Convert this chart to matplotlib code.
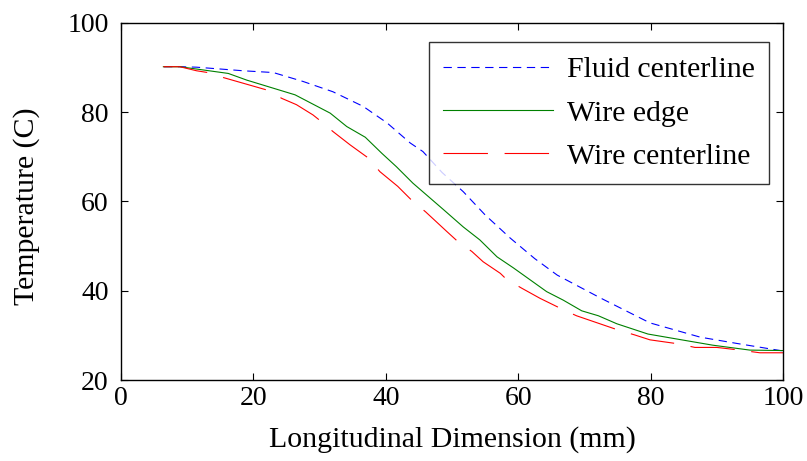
import matplotlib
matplotlib.use("Agg")
import matplotlib.pyplot as plt

plt.rcParams['font.family'] = ['Liberation Serif', 'DejaVu Serif']
plt.rcParams['lines.scale_dashes'] = False

fluid_x = [6.5, 9, 11.4, 18.4, 23, 27.5, 32, 36.6, 40.2, 43.7, 45.6, 48.5, 51.7, 55, 58.8, 62.5, 65.9, 72.4, 79.9, 87.5, 93, 100]
fluid_y = [90.2, 90.2, 90.1, 89.3, 88.9, 86.9, 84.6, 81.3, 77.6, 73.1, 71.2, 66.5, 62.2, 57.0, 51.8, 47.2, 43.5, 38.4, 32.8, 29.6, 28.2, 26.5]

edge_x = [6.4, 8.9, 16.2, 19, 26.3, 31.6, 34.1, 36.9, 39.4, 41.6, 44.1, 48.7, 51.7, 54.2, 56.8, 59.3, 64.3, 66.8, 69.6, 72.1, 74.9, 79.6, 83.9, 89.4, 95, 100]
edge_y = [90.2, 90.2, 88.7, 87.2, 83.9, 79.8, 76.8, 74.4, 70.8, 67.8, 64.1, 58.2, 54.3, 51.4, 47.6, 45.1, 39.8, 37.9, 35.5, 34.4, 32.6, 30.3, 29.2, 27.8, 26.7, 26.6]

wire_x = [6.4, 8.9, 11.4, 13.1, 15.4, 22, 24.3, 26.5, 29, 30.1, 32, 34.6, 37.4, 39.1, 41.8, 44.1, 46, 49.2, 50.9, 53, 54.7, 57.3, 58.2, 60.5, 63.3, 66.6, 68.8, 75.1, 77.6, 79.9, 84.2, 86.7, 90, 93.5, 96.5, 100]
wire_y = [90.2, 90.2, 89.3, 88.9, 87.8, 85.0, 83.1, 81.7, 79.4, 78.1, 75.7, 72.7, 69.7, 66.7, 63.4, 60.0, 57.7, 53.3, 51.0, 48.8, 46.5, 43.9, 42.6, 40.6, 38.3, 35.9, 34.4, 31.2, 30.1, 29.0, 28.1, 27.3, 27.3, 26.7, 26.1, 26.1]

labels = ['Fluid centerline', 'Wire edge', 'Wire centerline']
xticks = [0, 20, 40, 60, 80, 100]
yticks = [20, 40, 60, 80, 100]

fig = plt.figure(figsize=(8.07, 4.61), dpi=100)
ax = fig.add_axes([121/807, 1 - 380/461, (783-121)/807, (380-23)/461])

ax.plot(fluid_x, fluid_y, color='#0000ff', lw=0.8, dashes=(6, 4), label=labels[0])
ax.plot(edge_x, edge_y, color='#008000', lw=0.8, label=labels[1])
ax.plot(wire_x, wire_y, color='#ff0000', lw=0.8, dashes=(32, 12), label=labels[2])

ax.set_xlim(0, 100)
ax.set_ylim(20, 100)
ax.set_xticks(xticks)
ax.set_yticks(yticks)
ax.tick_params(direction='in', length=5, width=0.8, top=True, right=True, labelsize=20)
ax.tick_params(axis='x', pad=4)
ax.tick_params(axis='y', pad=9)
for s in ax.spines.values():
    s.set_linewidth(1.0)
ax.set_xlabel('Longitudinal Dimension (mm)', fontsize=21.5, labelpad=11)
ax.set_ylabel('Temperature (C)', fontsize=21.5)
ax.yaxis.set_label_coords(-0.122, 0.487)

leg = ax.legend(loc='upper right', bbox_to_anchor=((769-121)/662, (380-42)/357), fontsize=21.5,
                frameon=True, fancybox=False, edgecolor='black', handlelength=3.7,
                borderpad=0.48, labelspacing=0.55, handletextpad=0.45, borderaxespad=0)
leg.get_frame().set_linewidth(1.0)

fig.savefig('out.png', dpi=100)
